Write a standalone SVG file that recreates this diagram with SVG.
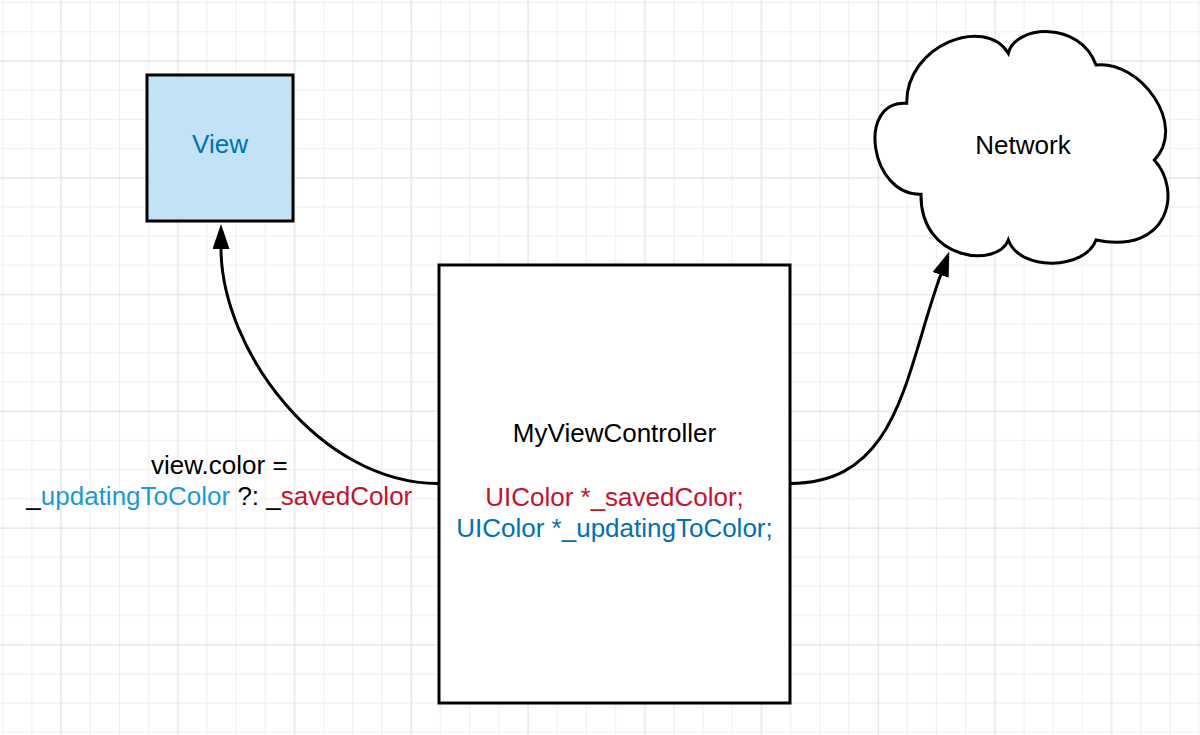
<svg xmlns="http://www.w3.org/2000/svg" width="1200" height="735" viewBox="0 0 1200 735">
  <style>
    .t { font-family: "Liberation Sans", Arial, sans-serif; font-size: 26px; text-anchor: middle; }
    .blk { fill: #000000; }
    .red { fill: #c8102e; }
    .blue { fill: #0070b8; }
    .lblue { fill: #1a9bd7; }
    .shape { stroke: #000000; stroke-width: 3; }
    .conn { fill: none; stroke: #000000; stroke-width: 3; }
  </style>
  <defs>
    <pattern id="grid" patternUnits="userSpaceOnUse" x="2.2" y="2.2" width="116.72" height="116.72">
      <rect x="0" y="0" width="1" height="116.72" fill="#eeeeee"/>
      <rect x="29.18" y="0" width="1" height="116.72" fill="#eeeeee"/>
      <rect x="87.54" y="0" width="1" height="116.72" fill="#eeeeee"/>
      <rect x="0" y="0" width="116.72" height="1" fill="#eeeeee"/>
      <rect x="0" y="29.18" width="116.72" height="1" fill="#eeeeee"/>
      <rect x="0" y="87.54" width="116.72" height="1" fill="#eeeeee"/>
      <rect x="58.36" y="0" width="1.2" height="116.72" fill="#e2e2e2"/>
      <rect x="0" y="58.36" width="116.72" height="1.2" fill="#e2e2e2"/>
    </pattern>
    <marker id="arrow" markerUnits="userSpaceOnUse" markerWidth="26" markerHeight="18" refX="1" refY="8.5" orient="auto">
      <path d="M0,0 L25,8.5 L0,17 z" fill="#000000"/>
    </marker>
  </defs>

  <rect x="0" y="0" width="1200" height="735" fill="#ffffff"/>
  <rect x="0" y="0" width="1200" height="735" fill="url(#grid)"/>

  <g id="connectors">
    <path class="conn" d="M438,483.5 C320,483.5 221,350 221,248" marker-end="url(#arrow)"/>
    <path class="conn" d="M790,483.5 C900,483.5 905,372 941,274" marker-end="url(#arrow)"/>
  </g>

  <g id="view">
    <rect class="shape" x="147" y="75" width="146" height="146" fill="#c2e3f5"/>
    <text class="t blue" x="220" y="152.5">View</text>
  </g>

  <g id="network">
    <path class="shape" fill="#ffffff" d="M921,194.3 C870,196 856,100 906.7,103.3 C906,45 985,15 1008.3,53.3 C1015,25 1080,20 1096,65 C1140,60 1188,125 1154.3,160 C1182,190 1170,255 1096,240 C1085,270 1020,272 1008.3,240 C998,268 920,262 921,194.3 Z"/>
    <text class="t blk" x="1023" y="153.5">Network</text>
  </g>

  <g id="myviewcontroller">
    <rect class="shape" x="439" y="265" width="351" height="438" fill="#ffffff"/>
    <text class="t blk" x="614.5" y="442">MyViewController</text>
    <text class="t red" x="614.5" y="505.5">UIColor *_savedColor;</text>
    <text class="t blue" x="614.5" y="537">UIColor *_updatingToColor;</text>
  </g>

  <g id="label">
    <text class="t blk" x="219.3" y="473.5">view.color =</text>
    <text class="t" x="219.3" y="504.5"><tspan class="blk">_</tspan><tspan class="lblue">updatingToColor</tspan><tspan class="blk"> ?: _</tspan><tspan class="red">savedColor</tspan></text>
  </g>
</svg>
